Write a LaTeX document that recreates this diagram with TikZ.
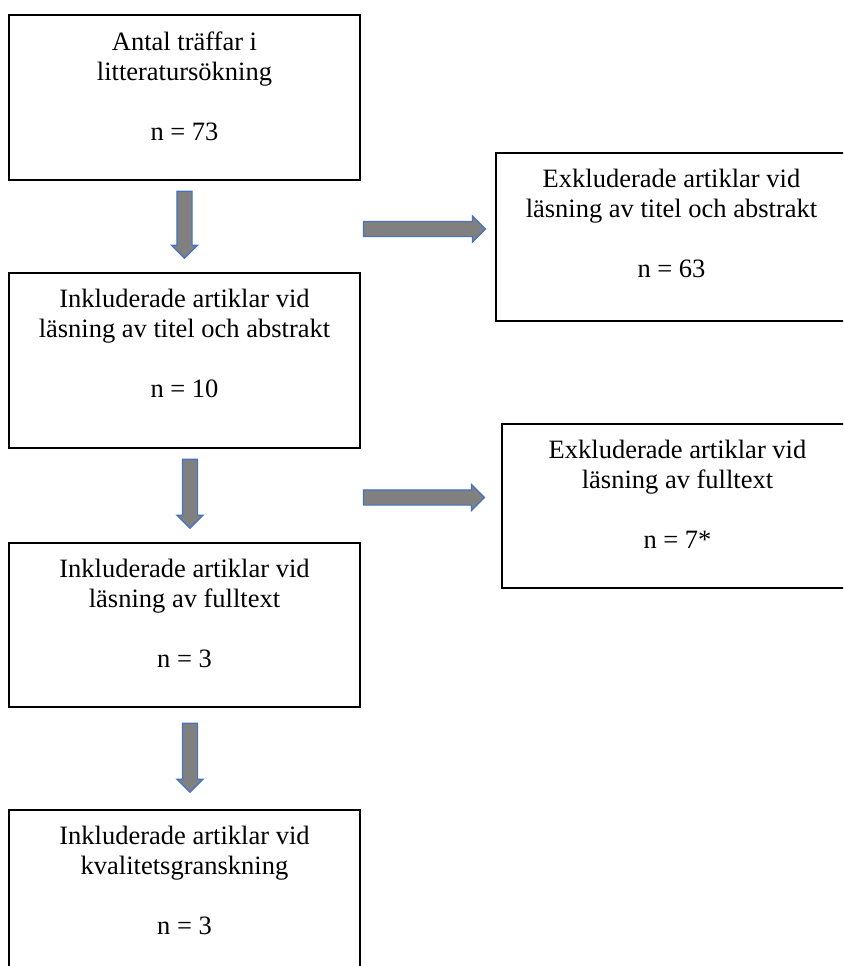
\documentclass[tikz,border=0pt]{standalone}
\usepackage{fontspec}
\setmainfont{Liberation Serif}
\usetikzlibrary{shapes.arrows,calc,positioning}
\definecolor{arrowgray}{RGB}{128,128,128}
\definecolor{arrowblue}{RGB}{68,114,196}
\tikzset{
    box/.style={draw, line width=1.4pt, minimum width=351pt, inner sep=0pt},
    boxtext/.style={align=center, inner sep=0pt, font=\fontsize{26.5}{30}\selectfont},
    blockarrow/.style={single arrow, draw=arrowblue, fill=arrowgray, line width=1.2pt, inner sep=7pt, single arrow head extend=5.5pt}
}

\begin{document}
\begin{tikzpicture}[x=1pt,y=1pt]
                \useasboundingbox (0,0) rectangle (843,-966);
                \clip (0,0) rectangle (843,-966);
                \node [box, minimum height=165pt] (tot) at (184.5,-97.5) {};
                \node [box, minimum height=175pt] (incl1) at (184.5,-360.5) {};
                \node [box, minimum height=164pt] (incl2) at (184.5,-625) {};
                \node [box, minimum height=165pt] (incl3) at (184.5,-892.5) {};
                \node [box, minimum height=168pt] (excl1) at (671.5,-237) {};
                \node [box, minimum height=164pt] (excl2) at (677.5,-506) {};
                \node [boxtext, below=17pt of tot.north] (tot-t) {Antal träffar i\\litteratursökning\\[30pt]n = 73};
                \node [boxtext, below=17pt of incl1.north] (incl1-t) {Inkluderade artiklar vid\\läsning av titel och abstrakt\\[30pt]n = 10};
                \node [boxtext, below=17pt of incl2.north] (incl2-t) {Inkluderade artiklar vid\\läsning av fulltext\\[30pt]n = 3};
                \node [boxtext, below=17pt of incl3.north] (incl3-t) {Inkluderade artiklar vid\\kvalitetsgranskning\\[30pt]n = 3};
                \node [boxtext, below=17pt of excl1.north] (excl1-t) {Exkluderade artiklar vid\\läsning av titel och abstrakt\\[30pt]n = 63};
                \node [boxtext, below=17pt of excl2.north] (excl2-t) {Exkluderade artiklar vid\\läsning av fulltext\\[30pt]n = 7*};
                \node [blockarrow, rotate=-90, minimum height=67pt, anchor=tail] (down1) at ($(tot.south)+(0,-10)$) {};
                \node [blockarrow, rotate=-90, minimum height=69pt, anchor=tail] (down2) at ($(incl1.south)+(5.5,-10)$) {};
                \node [blockarrow, rotate=-90, minimum height=69pt, anchor=tail] (down3) at ($(incl2.south)+(5.5,-15)$) {};
                \node [blockarrow, minimum height=122pt, anchor=tip] (right1) at ($(excl1.west)+(-9,8)$) {};
                \node [blockarrow, minimum height=121pt, anchor=tip] (right2) at ($(excl2.west)+(-16,8.5)$) {};
            \end{tikzpicture}
\end{document}
